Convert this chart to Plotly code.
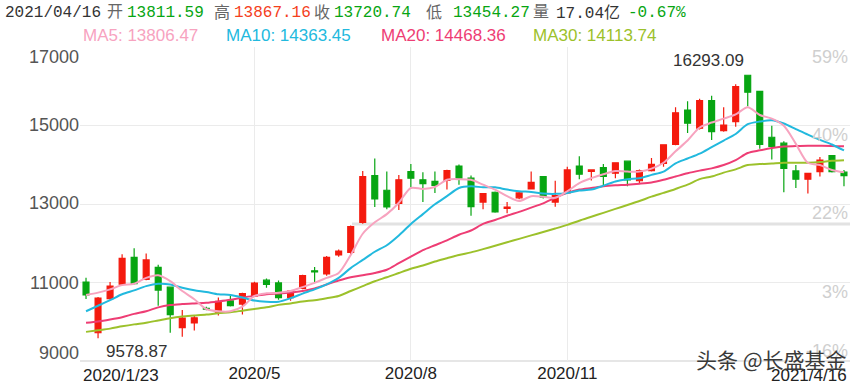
import plotly.graph_objects as go

dates = ["2020-01-23","2020-02-07","2020-02-14","2020-02-21","2020-02-28","2020-03-06","2020-03-13","2020-03-20",
         "2020-03-27","2020-04-03","2020-04-10","2020-04-17","2020-04-24","2020-04-30","2020-05-08","2020-05-15",
         "2020-05-22","2020-05-29","2020-06-05","2020-06-12","2020-06-19","2020-06-24","2020-07-03","2020-07-10",
         "2020-07-17","2020-07-24","2020-07-31","2020-08-07","2020-08-14","2020-08-21","2020-08-28","2020-09-04",
         "2020-09-11","2020-09-18","2020-09-25","2020-09-30","2020-10-09","2020-10-16","2020-10-23","2020-10-30",
         "2020-11-06","2020-11-13","2020-11-20","2020-11-27","2020-12-04","2020-12-11","2020-12-18","2020-12-25",
         "2020-12-31","2021-01-08","2021-01-15","2021-01-22","2021-01-29","2021-02-05","2021-02-10","2021-02-19",
         "2021-02-26","2021-03-05","2021-03-12","2021-03-19","2021-03-26","2021-04-02","2021-04-09","2021-04-16"]

opens = [11010, 9720, 10590, 10960, 11640, 11080, 11383, 10880, 9850, 9970, 10340, 10242, 10533, 10450, 10658, 11058,
         10990, 10617, 10850, 11300, 11217, 11700, 11767, 12533, 13725, 13350, 13017, 13825, 13617, 13575, 13600, 13967,
         13658, 13050, 13300, 12890, 13158, 13383, 13700, 13050, 13283, 13967, 13830, 13925, 13783, 14092, 13592, 13850,
         14033, 14517, 15392, 14933, 15633, 14867, 15100, 16280, 15867, 14700, 14550, 13842, 13633, 13825, 14233, 13811.59]
highs = [11120, 10630, 11010, 11720, 11870, 11740, 11450, 10890, 10300, 10150, 10380, 10617, 10658, 10740, 11017, 11100,
         11050, 10790, 11200, 11392, 11675, 11842, 12450, 13842, 14158, 13825, 13742, 14017, 13808, 13825, 13870, 14008,
         13725, 13280, 13320, 13050, 13310, 13825, 13710, 13592, 13950, 14217, 13880, 14017, 14060, 14110, 13880, 14175,
         14520, 15467, 15617, 15680, 15758, 15467, 16050, 16293.09, 15880, 14992, 14600, 13992, 13790, 14200, 14240, 13867.16]
lows = [10580, 9578.87, 10560, 10940, 10950, 11060, 10408, 9720, 9620, 9780, 10290, 10158, 10390, 10183, 10640, 10867,
        10558, 10533, 10830, 11008, 11175, 11658, 11700, 12500, 12925, 12867, 12850, 13425, 13050, 13283, 13367, 13492,
        12700, 12867, 12780, 12767, 13120, 13370, 13140, 12933, 13260, 13633, 13600, 13467, 13658, 13450, 13533, 13830,
        13950, 14500, 14808, 14900, 14633, 14840, 14967, 15492, 14408, 14133, 13300, 13408, 13267, 13700, 13800, 13454.27]
closes = [10681, 10600, 10908, 11617, 10970, 11575, 10808, 10183, 10092, 10100, 10320, 10517, 10408, 10717, 10983, 10950,
          10617, 10783, 11175, 11270, 11642, 11800, 12425, 13700, 13133, 12925, 13617, 13658, 13517, 13475, 13850, 13658,
          12933, 13267, 12800, 12920, 13283, 13550, 13175, 13217, 13867, 13758, 13867, 13700, 14050, 13617, 13850, 14008,
          14508, 15325, 15058, 15633, 14842, 15008, 15992, 15850, 14517, 14467, 13908, 13633, 13783, 14117, 13825, 13720.74]

ma5 = [10683, 10742, 10825, 10933, 10967, 11117, 11183, 11033, 10783, 10575, 10325, 10267, 10267, 10383, 10658, 10725,
       10742, 10783, 10883, 10992, 11117, 11242, 11700, 12242, 12533, 12742, 13033, 13408, 13383, 13433, 13617, 13633,
       13617, 13492, 13367, 13200, 13075, 13200, 13183, 13158, 13325, 13533, 13658, 13758, 13842, 13825, 13825, 13900,
       14050, 14342, 14617, 14950, 15075, 15175, 15283, 15467, 15267, 15175, 14992, 14533, 14050, 13992, 13867, 13806.47]
ma10 = [10267, 10408, 10550, 10700, 10800, 10908, 10967, 10950, 10867, 10800, 10758, 10700, 10683, 10617, 10540, 10510,
        10510, 10600, 10717, 10825, 10950, 11117, 11367, 11575, 11783, 11950, 12200, 12492, 12742, 12992, 13200, 13408,
        13450, 13425, 13425, 13367, 13325, 13308, 13267, 13258, 13283, 13342, 13367, 13467, 13575, 13633, 13658, 13742,
        13825, 14033, 14158, 14283, 14450, 14617, 14783, 15033, 15100, 15133, 15050, 14908, 14767, 14633, 14517, 14363.45]
ma20 = [9975, 10008, 10058, 10117, 10200, 10267, 10367, 10425, 10450, 10467, 10483, 10517, 10558, 10617, 10658, 10700,
        10717, 10742, 10783, 10850, 10950, 11050, 11133, 11183, 11242, 11325, 11492, 11658, 11825, 11950, 12075, 12217,
        12325, 12492, 12592, 12700, 12800, 12908, 13017, 13158, 13283, 13367, 13408, 13450, 13475, 13492, 13517, 13550,
        13617, 13700, 13783, 13850, 13908, 13992, 14117, 14300, 14367, 14425, 14467, 14475, 14483, 14483, 14480, 14468.36]
ma30 = [9742, 9783, 9825, 9883, 9933, 9975, 10033, 10092, 10133, 10158, 10183, 10217, 10242, 10283, 10325, 10367,
        10430, 10467, 10517, 10550, 10600, 10658, 10783, 10908, 11033, 11133, 11242, 11350, 11433, 11533, 11617, 11700,
        11767, 11850, 11937, 12025, 12112, 12200, 12287, 12375, 12467, 12575, 12675, 12775, 12875, 12975, 13075, 13187,
        13283, 13383, 13492, 13633, 13700, 13800, 13883, 13992, 14017, 14033, 14050, 14050, 14050, 14067, 14100, 14113.74]

y_ticks = [9000, 11000, 13000, 15000, 17000]
y_ticktext = ["9000", "11000", "13000", "15000", "17000"]
pct_text = ["-16%", "3%", "22%", "40%", "59%"]
x_tickvals = ["2020-05-08", "2020-08-07", "2020-11-06"]
x_ticktext = ["2020/5", "2020/8", "2020/11"]

RED = "#f41a0e"
GREEN = "#07a512"
C5, C10, C20, C30 = "#f7a3bf", "#22b9de", "#ee3d74", "#9cc12b"

W, H = 859, 392
L, R, T, B = 80, 850, 47, 368

def px(x):
    return (x - L) / (R - L)

def py(y):
    return (B - y) / (B - T)

fig = go.Figure()
fig.add_trace(go.Candlestick(
    x=dates, open=opens, high=highs, low=lows, close=closes,
    increasing=dict(line=dict(color=RED, width=1.2), fillcolor=RED),
    decreasing=dict(line=dict(color=GREEN, width=1.2), fillcolor=GREEN),
    whiskerwidth=0, showlegend=False, hoverinfo="skip"))
for vals, col in [(ma30, C30), (ma20, C20), (ma10, C10), (ma5, C5)]:
    fig.add_trace(go.Scatter(x=dates, y=vals, mode="lines",
                             line=dict(color=col, width=2, shape="spline", smoothing=0.8),
                             showlegend=False, hoverinfo="skip"))

ann = []
# header line
hdr_font = "Liberation Mono, Noto Sans CJK SC, monospace"
GRAY_LBL = "#666666"
header = [
    (3, "2021/04/16", "#333333"), (105, "开", GRAY_LBL), (125, "13811.59", GREEN),
    (212, "高", GRAY_LBL), (232, "13867.16", "#f4401c"), (312, "收", GRAY_LBL),
    (332, "13720.74", GREEN), (424, "低", GRAY_LBL), (451, "13454.27", GREEN),
    (531, "量", GRAY_LBL), (554, "17.04亿", "#333333"), (626, "-0.67%", GREEN),
]
for x0, txt, col in header:
    ann.append(dict(x=px(x0), y=py(12.5), xref="paper", yref="paper", text=txt, showarrow=False,
                    xanchor="left", yanchor="middle", font=dict(family=hdr_font, size=16, color=col)))
# MA legend line
leg_font = "Liberation Sans, Arial, sans-serif"
legend = [(81, "MA5: 13806.47", C5), (224, "MA10: 14363.45", C10),
          (379, "MA20: 14468.36", C20), (531, "MA30: 14113.74", C30)]
for x0, txt, col in legend:
    ann.append(dict(x=px(x0), y=py(35), xref="paper", yref="paper", text=txt, showarrow=False,
                    xanchor="left", yanchor="middle", font=dict(family=leg_font, size=17, color=col)))
# left axis labels
left_y = [360, 288, 206, 127, 57]
for yy, txt in zip(left_y, y_ticktext):
    ann.append(dict(x=px(81), y=py(yy), xref="paper", yref="paper", text=txt, showarrow=False,
                    xanchor="right", yanchor="middle", font=dict(family=leg_font, size=18, color="#555555")))
# right axis labels
right_y = [358, 297, 217, 137, 57]
for yy, txt in zip(right_y, pct_text):
    ann.append(dict(x=px(850), y=py(yy), xref="paper", yref="paper", text=txt, showarrow=False,
                    xanchor="right", yanchor="middle", font=dict(family=leg_font, size=18, color="#cfcfcf")))
# x edge labels
ann.append(dict(x=px(81), y=py(383), xref="paper", yref="paper", text="2020/1/23", showarrow=False,
                xanchor="left", yanchor="middle", font=dict(family=leg_font, size=17, color="#222222")))
ann.append(dict(x=px(849), y=py(383), xref="paper", yref="paper", text="2021/4/16", showarrow=False,
                xanchor="right", yanchor="middle", font=dict(family=leg_font, size=17, color="#222222")))
# high / low marks
ann.append(dict(x=dates[55], y=highs[55], text="16293.09", showarrow=False, xanchor="right", yanchor="bottom",
                xshift=-2, yshift=3, font=dict(family=leg_font, size=17, color="#333333")))
ann.append(dict(x=dates[1], y=lows[1], text="9578.87", showarrow=False, xanchor="left", yanchor="top",
                xshift=6, yshift=-2, font=dict(family=leg_font, size=17, color="#333333")))
# watermark
ann.append(dict(x=px(849), y=py(366), xref="paper", yref="paper", text="头条 @长盛基金", showarrow=False,
                xanchor="right", yanchor="middle",
                font=dict(family="Noto Sans CJK SC, sans-serif", size=21, color="#3a3a3a")))

shapes = [dict(type="line", xref="paper", yref="paper", x0=px(352), x1=1, y0=py(228), y1=py(228),
               line=dict(color="#e2e2e2", width=3), layer="below"),
          dict(type="line", xref="paper", yref="paper", x0=0, x1=1, y0=0, y1=0,
               line=dict(color="#e6e6e6", width=2), layer="below")]

fig.update_layout(
    width=W, height=H, autosize=False,
    margin=dict(l=L, r=W - R, t=T, b=H - B, pad=0),
    paper_bgcolor="white", plot_bgcolor="white",
    annotations=ann, shapes=shapes,
    xaxis=dict(type="category", range=[-0.5, len(dates) - 0.5], rangeslider=dict(visible=False),
               tickvals=x_tickvals, ticktext=x_ticktext, showgrid=True, gridcolor="#ebebeb", gridwidth=1,
               zeroline=False, showline=False, ticks="", ticklen=0,
               tickfont=dict(family=leg_font, size=17, color="#222222")),
    yaxis=dict(range=[9000, 17000], tickvals=y_ticks, showticklabels=False, showgrid=True,
               gridcolor="#ebebeb", gridwidth=1, zeroline=False, showline=False, ticks=""),
    font=dict(family=leg_font),
)
fig.write_html("out.html")
